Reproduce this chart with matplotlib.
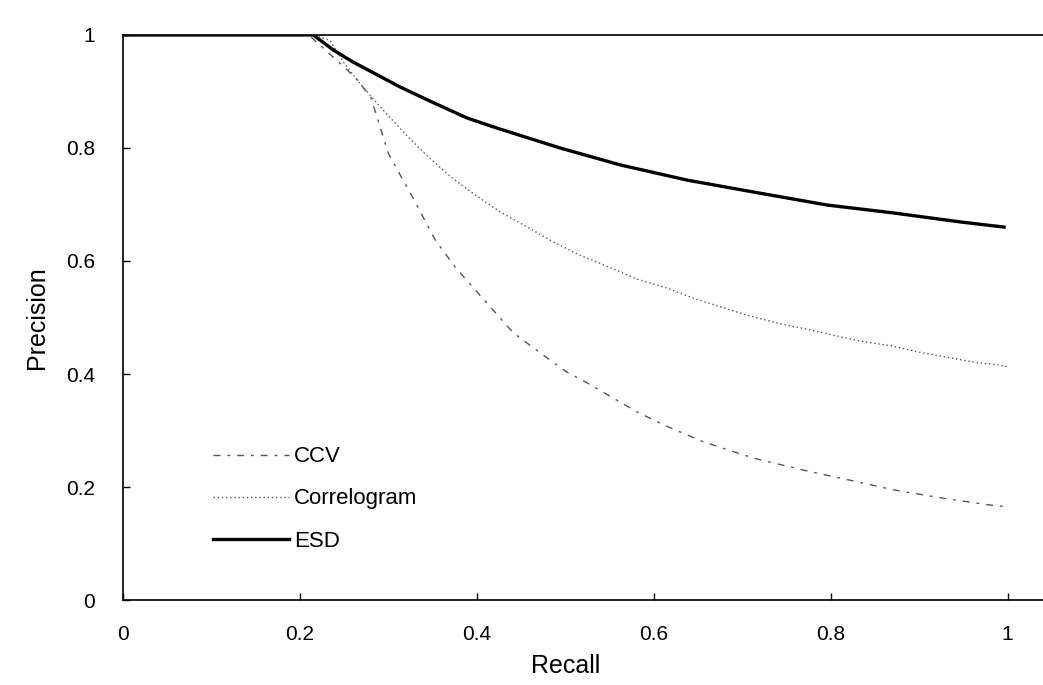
import matplotlib
matplotlib.use("Agg")
import matplotlib.pyplot as plt

plt.rcParams['font.family'] = ['Liberation Sans', 'DejaVu Sans']

# recall / precision pairs
ccv_recall = [0.0, 0.21, 0.25, 0.265, 0.28, 0.30, 0.33, 0.353, 0.376, 0.393, 0.441,
              0.472, 0.50, 0.525, 0.581, 0.611, 0.656, 0.713, 0.769, 0.822,
              0.871, 0.928, 0.981, 1.0]
ccv_prec = [1.0, 1.0, 0.943, 0.92, 0.89, 0.79, 0.705, 0.637, 0.588, 0.558, 0.473,
            0.437, 0.405, 0.384, 0.333, 0.31, 0.28, 0.251, 0.23, 0.212,
            0.195, 0.18, 0.168, 0.165]

corr_recall = [0.0, 0.215, 0.234, 0.25, 0.27, 0.294, 0.322, 0.345, 0.372, 0.398,
               0.426, 0.457, 0.486, 0.514, 0.551, 0.581, 0.615, 0.645, 0.675,
               0.706, 0.74, 0.771, 0.802, 0.834, 0.868, 0.899, 0.93, 0.962,
               0.99, 1.0]
corr_prec = [1.0, 1.0, 0.99, 0.95, 0.91, 0.867, 0.82, 0.784, 0.747, 0.717,
             0.687, 0.66, 0.634, 0.612, 0.588, 0.568, 0.552, 0.534, 0.519,
             0.504, 0.49, 0.48, 0.469, 0.458, 0.45, 0.439, 0.43, 0.421,
             0.416, 0.413]

esd_recall = [0.0, 0.215, 0.238, 0.26, 0.283, 0.313, 0.351, 0.389, 0.423, 0.494,
              0.562, 0.638, 0.72, 0.796, 0.871, 0.947, 0.996]
esd_prec = [1.0, 1.0, 0.973, 0.952, 0.933, 0.908, 0.88, 0.853, 0.835, 0.80,
            0.77, 0.743, 0.72, 0.699, 0.685, 0.669, 0.66]

ticks = [0, 0.2, 0.4, 0.6, 0.8, 1]
tick_labels = ['0', '0.2', '0.4', '0.6', '0.8', '1']

fig = plt.figure(figsize=(10.43, 6.85), dpi=100)
ax = fig.add_axes([0.118, 0.124, 0.882, 0.825])

ax.plot(ccv_recall, ccv_prec, color='#555555', lw=1.0,
        linestyle=(0, (5, 5, 2, 5)), label='CCV')
ax.plot(corr_recall, corr_prec, color='#555555', lw=1.0,
        linestyle=(0, (1, 2)), label='Correlogram')
ax.plot(esd_recall, esd_prec, color='black', lw=2.4, label='ESD')

ax.set_xlim(0, 1.04)
ax.set_ylim(0, 1)
ax.set_xticks(ticks)
ax.set_xticklabels(tick_labels)
ax.set_yticks(ticks)
ax.set_yticklabels(tick_labels)
ax.tick_params(direction='in', length=5, width=1, labelsize=15)
ax.tick_params(axis='x', pad=18)
ax.tick_params(axis='y', pad=20)
ax.spines['right'].set_visible(False)
for s in ['left', 'bottom', 'top']:
    ax.spines[s].set_linewidth(1.2)

ax.set_xlabel('Recall', fontsize=18)
ax.xaxis.set_label_coords(0.5 / 1.04, -0.095)
ax.set_ylabel('Precision', fontsize=18)
ax.yaxis.set_label_coords(-0.08, 0.5)

ax.legend(loc='upper left', bbox_to_anchor=(0.098, 0.272), frameon=False,
          fontsize=16, handlelength=3.4, handletextpad=0.25,
          labelspacing=0.95, borderpad=0, borderaxespad=0)

fig.savefig('out.png', dpi=100)
